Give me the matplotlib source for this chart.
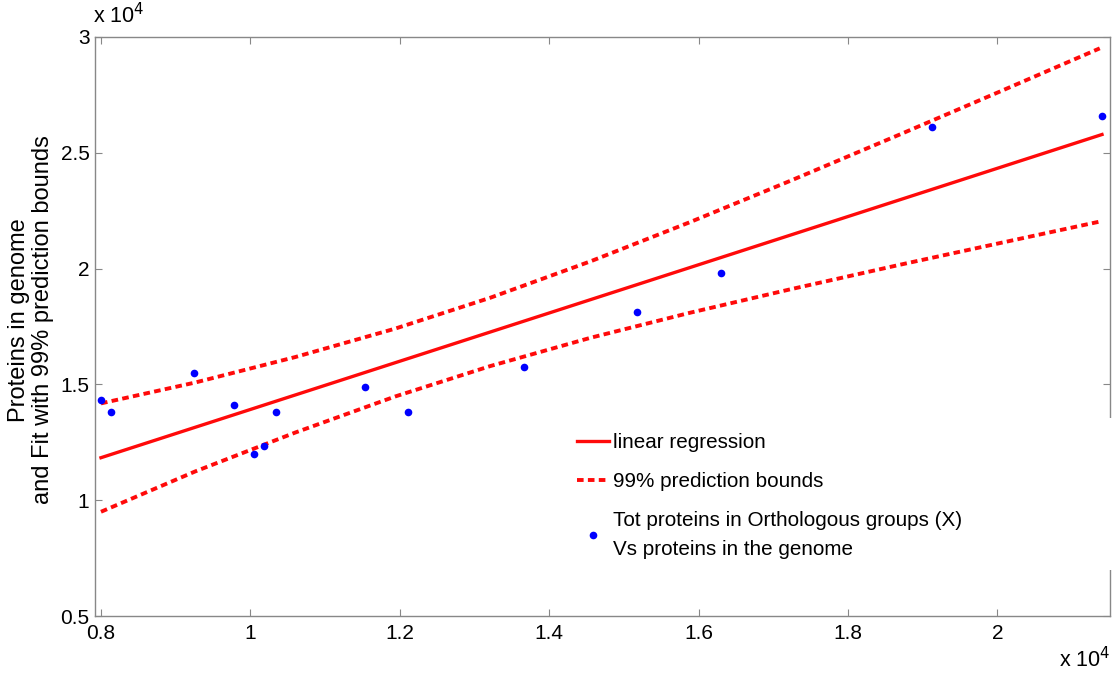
import numpy as np
import matplotlib
matplotlib.use("Agg")
import matplotlib.pyplot as plt
from matplotlib.patches import Rectangle
from matplotlib.ticker import FuncFormatter

plt.rcParams['font.family'] = ['Liberation Sans', 'DejaVu Sans']

# data points (Tot proteins in orthologous groups vs proteins in genome)
x_pts = [8000, 8130, 9240, 9780, 10050, 10180, 10340, 11530, 12110,
         13660, 15180, 16300, 19120, 21400]
y_pts = [14330, 13810, 15480, 14100, 11980, 12330, 13810, 14890, 13810,
         15750, 18140, 19810, 26130, 26590]

# linear regression line
fit_x = [8000, 21400]
fit_y = [11835, 25790]

# 99% prediction bounds
bound_x = [8000, 9260, 10600, 11940, 13210, 14550, 15880, 17220, 18700,
           20030, 21370]
upper_y = [14180, 15080, 16180, 17410, 18740, 20310, 22000, 23780, 25800,
           27640, 29510]
lower_y = [9500, 11240, 12920, 14480, 15790, 17010, 18090, 19100, 20170,
           21100, 22030]

xticks = [8000, 10000, 12000, 14000, 16000, 18000, 20000]
yticks = [5000, 10000, 15000, 20000, 25000, 30000]

fig = plt.figure(figsize=(11.14, 6.73), dpi=100)
ax = fig.add_axes([95/1114, 1-616/673, (1110-95)/1114, (616-37)/673])

red = '#ff0a0a'
ax.plot(fit_x, fit_y, '-', color=red, lw=2.4, label='linear regression')
ax.plot(bound_x, upper_y, color=red, lw=2.8, dashes=(1.7, 1.1),
        dash_capstyle='butt', label='99% prediction bounds')
ax.plot(bound_x, lower_y, color=red, lw=2.8, dashes=(1.7, 1.1),
        dash_capstyle='butt')
ax.plot(x_pts, y_pts, 'o', color='#0000ff', ms=5.5, mec='none',
        label='Tot proteins in Orthologous groups (X)\nVs proteins in the genome')

ax.set_xlim(7920, 21507)
ax.set_ylim(5000, 30000)
ax.set_xticks(xticks)
ax.set_yticks(yticks)
fmt = FuncFormatter(lambda v, p: f"{v/1e4:g}")
ax.xaxis.set_major_formatter(fmt)
ax.yaxis.set_major_formatter(fmt)
ax.tick_params(direction='in', length=5, width=0.8, color='#888888',
               labelsize=15, top=True, right=True)
ax.tick_params(axis='x', pad=6)
ax.tick_params(axis='y', pad=4)
for s in ax.spines.values():
    s.set_color('#888888')
    s.set_linewidth(1.0)

# MATLAB-style exponent labels
fig.text(93/1114, 1-16/673, r'x 10$^4$', fontsize=15.5, ha='left', va='center')
fig.text(1110/1114, 1-660/673, r'x 10$^4$', fontsize=15.5, ha='right', va='center')

fig.text(31/1114, 1-320/673, 'Proteins in genome\nand Fit with 99% prediction bounds',
         rotation=90, ha='center', va='center', multialignment='center',
         fontsize=17, linespacing=1.1)

leg = ax.legend(loc='center left', bbox_to_anchor=(577/1114, 1-496/673),
                bbox_transform=fig.transFigure, frameon=False, fontsize=14.9,
                handlelength=1.55, handletextpad=0.2, labelspacing=0.95,
                borderpad=0, borderaxespad=0, numpoints=1)
for t in leg.get_texts():
    t.set_linespacing(1.65)

# legend box covers part of the right axis line
fig.add_artist(Rectangle((1100/1114, 1-570/673), 14/1114, 152/673,
                         transform=fig.transFigure, fc='white', ec='none',
                         zorder=10))

fig.savefig('out.png', dpi=100)
